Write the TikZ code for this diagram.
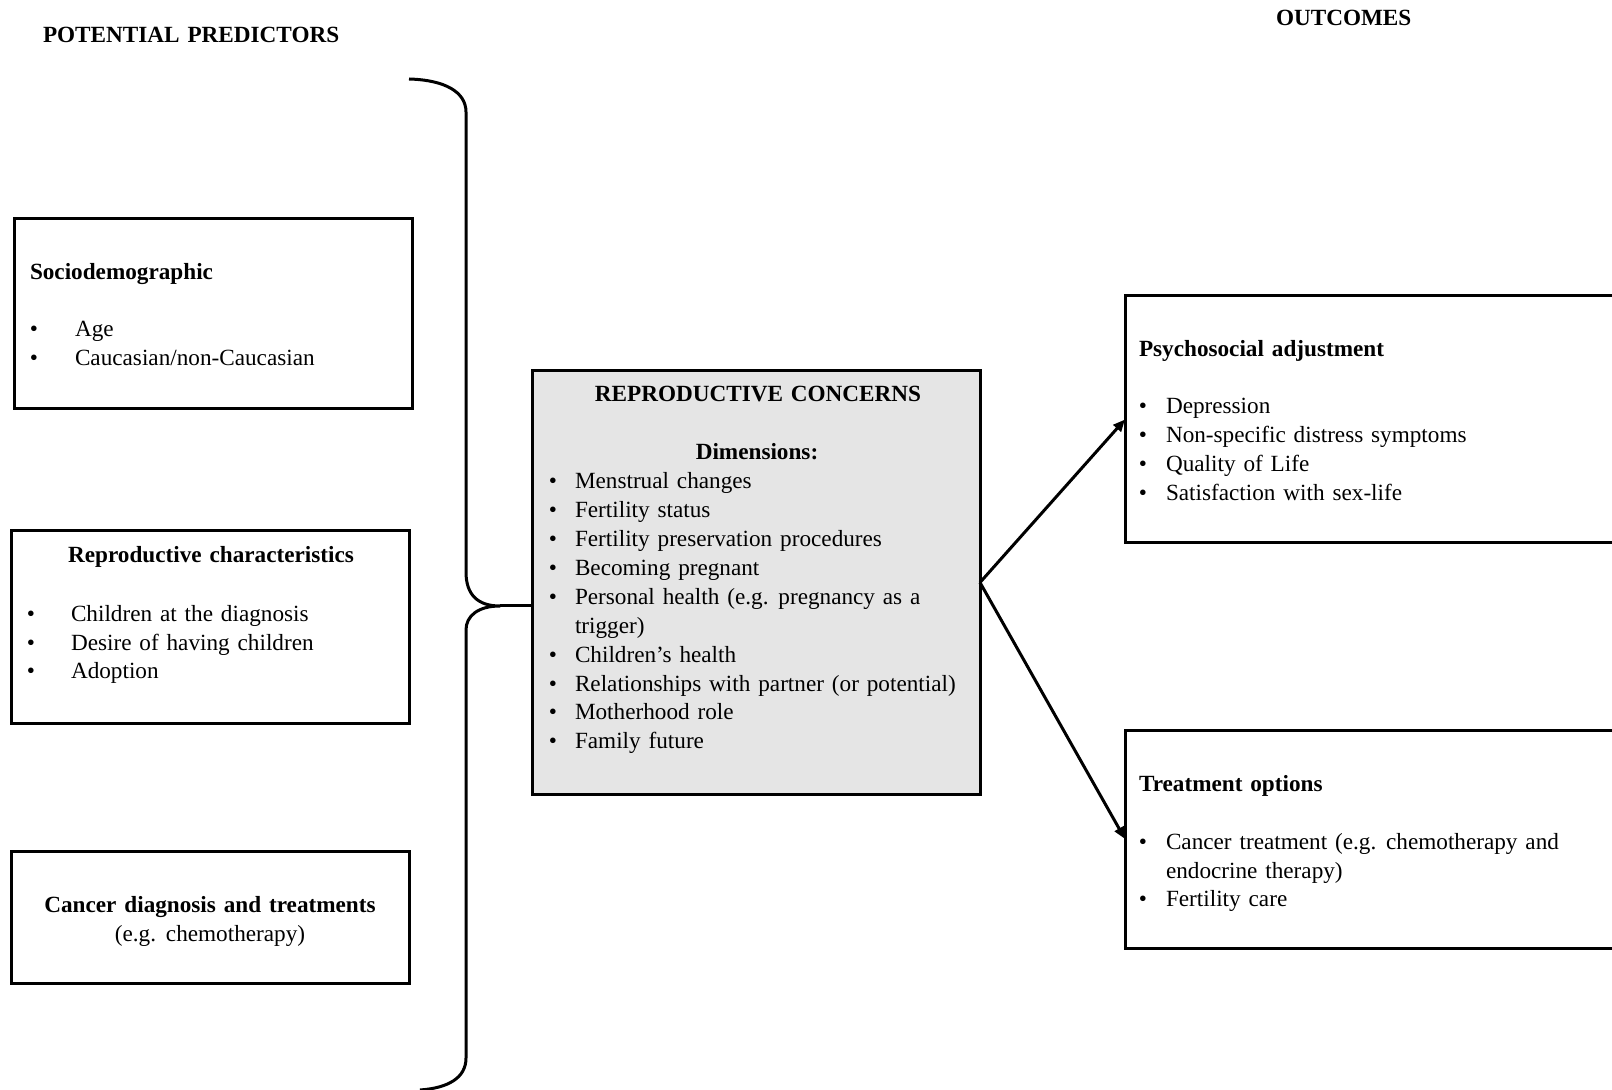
\documentclass[tikz,border=0pt]{standalone}
\usepackage{fontspec}
\setmainfont{Liberation Serif}
\usetikzlibrary{arrows.meta}
\newcommand\bodyfont{\fontsize{11.6}{14}\selectfont\spaceskip=0.34em plus 0.1em\relax}
\newcommand\headfont{\fontsize{11.6}{14}\selectfont\bfseries\spaceskip=0.34em plus 0.1em\relax}
\begin{document}
\begin{tikzpicture}[x=0.5pt,y=-0.5pt,
  every node/.style={inner sep=0pt,outer sep=0pt,font=\bodyfont},
  frame/.style={draw=black,line width=1.5pt,rectangle},
  txt/.style={anchor=mid west,yshift=-2pt},
  ttl/.style={anchor=mid west,yshift=-2pt,font=\headfont},
  ctl/.style={anchor=mid,yshift=-2pt,font=\headfont},
  ctr/.style={anchor=mid,yshift=-2pt},
  dot/.style={anchor=mid,yshift=-2pt},
  link/.style={line width=1.5pt,-{Triangle[length=6pt,width=5pt]}},
  curly/.style={line width=1.5pt,line join=round}]
\useasboundingbox (0,0) rectangle (1612,1090);

% column headings
\node[anchor=west,font=\headfont] (hpred) at (43,35) {POTENTIAL PREDICTORS};
\node[anchor=west,font=\headfont] (hout) at (1276,18) {OUTCOMES};

% predictor boxes
\node[frame,minimum width=199pt,minimum height=95pt] (socio) at (213,314) {};
\node[ttl] (socioT) at (30,271) {Sociodemographic};
\node[dot] (sb1) at (34,328) {•}; \node[txt] (s1) at (75,328) {Age};
\node[dot] (sb2) at (34,357) {•}; \node[txt] (s2) at (75,357) {Caucasian/non-Caucasian};

\node[frame,minimum width=199pt,minimum height=96pt] (repro) at (210,627) {};
\node[ctl] (reproT) at (211,554) {Reproductive characteristics};
\node[dot] (rb1) at (31,613) {•}; \node[txt] (r1) at (71,613) {Children at the diagnosis};
\node[dot] (rb2) at (31,642) {•}; \node[txt] (r2) at (71,642) {Desire of having children};
\node[dot] (rb3) at (31,670) {•}; \node[txt] (r3) at (71,670) {Adoption};

\node[frame,minimum width=199pt,minimum height=66pt] (cancer) at (210,917) {};
\node[ctl] (cancerT) at (210,904) {Cancer diagnosis and treatments};
\node[ctr] (cancerS) at (210,933) {(e.g. chemotherapy)};

% central box
\node[frame,fill=black!10,minimum width=224pt,minimum height=211.5pt] (core) at (756,582.5) {};
\node[ctl] (coreT) at (758,393) {REPRODUCTIVE CONCERNS};
\node[ctl] (coreD) at (757,451) {Dimensions:};
\node[dot] (cb1) at (553,480) {•}; \node[txt] (c1) at (575,480) {Menstrual changes};
\node[dot] (cb2) at (553,509) {•}; \node[txt] (c2) at (575,509) {Fertility status};
\node[dot] (cb3) at (553,538) {•}; \node[txt] (c3) at (575,538) {Fertility preservation procedures};
\node[dot] (cb4) at (553,567) {•}; \node[txt] (c4) at (575,567) {Becoming pregnant};
\node[dot] (cb5) at (553,596) {•}; \node[txt] (c5) at (575,596) {Personal health (e.g. pregnancy as a};
\node[txt] (c5b) at (575,625) {trigger)};
\node[dot] (cb6) at (553,654) {•}; \node[txt] (c6) at (575,654) {Children’s health};
\node[dot] (cb7) at (553,683) {•}; \node[txt] (c7) at (575,683) {Relationships with partner (or potential)};
\node[dot] (cb8) at (553,711) {•}; \node[txt] (c8) at (575,711) {Motherhood role};
\node[dot] (cb9) at (553,740) {•}; \node[txt] (c9) at (575,740) {Family future};

% outcome boxes (running past the right edge)
\node[frame,minimum width=260pt,minimum height=123.5pt] (psych) at (1385,419.5) {};
\node[ttl] (psychT) at (1139,348) {Psychosocial adjustment};
\node[dot] (pb1) at (1143,405) {•}; \node[txt] (p1) at (1166,405) {Depression};
\node[dot] (pb2) at (1143,434) {•}; \node[txt] (p2) at (1166,434) {Non-specific distress symptoms};
\node[dot] (pb3) at (1143,463) {•}; \node[txt] (p3) at (1166,463) {Quality of Life};
\node[dot] (pb4) at (1143,492) {•}; \node[txt] (p4) at (1166,492) {Satisfaction with sex-life};

\node[frame,minimum width=260pt,minimum height=109pt] (treat) at (1385,839) {};
\node[ttl] (treatT) at (1139,783) {Treatment options};
\node[dot] (tb1) at (1143,841) {•}; \node[txt] (t1) at (1166,841) {Cancer treatment (e.g. chemotherapy and};
\node[txt] (t1b) at (1166,870) {endocrine therapy)};
\node[dot] (tb2) at (1143,898) {•}; \node[txt] (t2) at (1166,898) {Fertility care};

% curly brace gathering the predictors
\coordinate (tip) at (500,606);
\draw[curly] (409,79) .. controls (445,80) and (466,92) .. (466,112)
  -- (466,572) .. controls (466,595) and (478,606) .. (tip)
  .. controls (478,606) and (466,616) .. (466,630)
  -- (466,1058) .. controls (466,1078) and (448,1088) .. (420,1090);
\draw[curly] (tip) -- (tip -| core.west);

% links to outcomes
\draw[link] (core.east) -- (psych.west);
\draw[link] (core.east) -- (treat.west);
\end{tikzpicture}
\end{document}
